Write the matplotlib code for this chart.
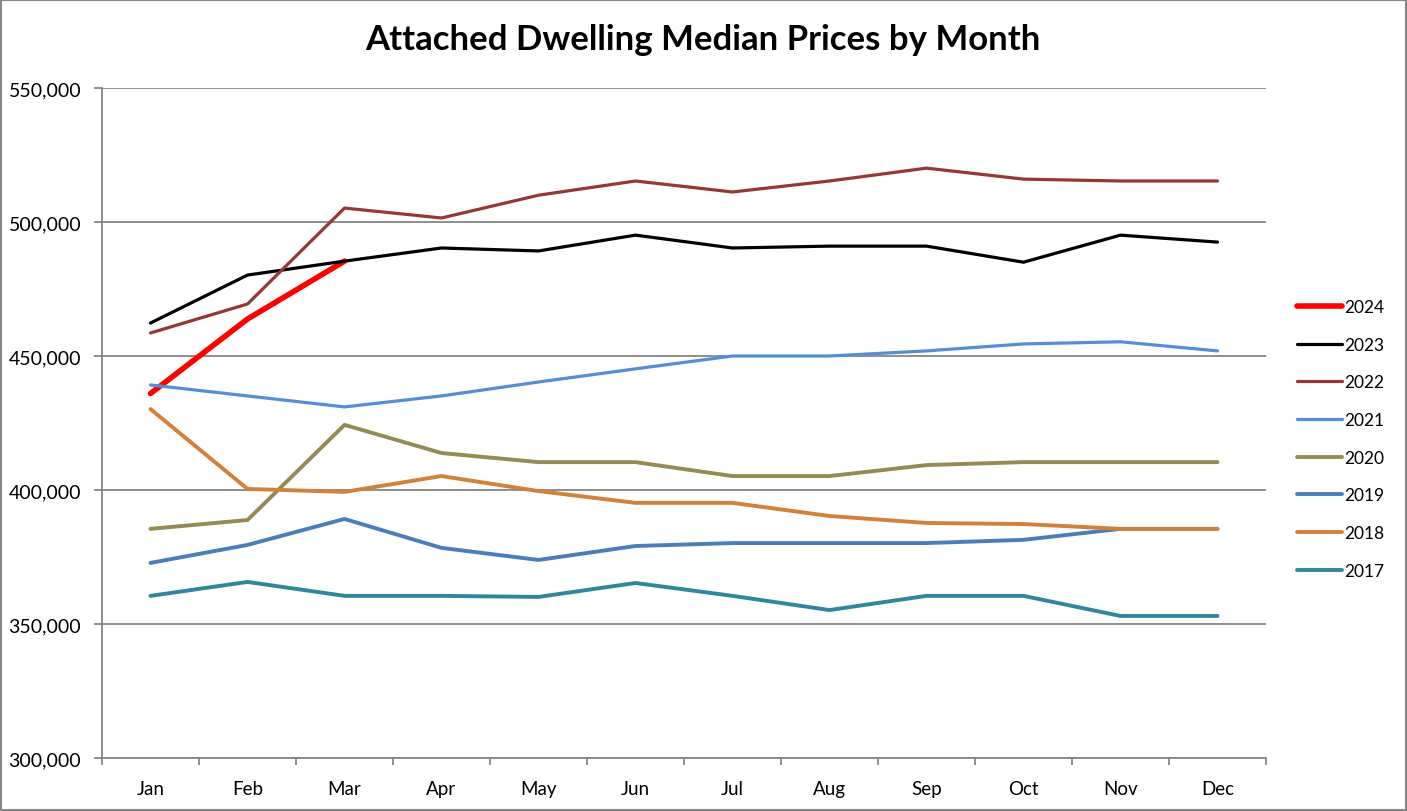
import matplotlib
matplotlib.use("Agg")
import matplotlib.pyplot as plt
from matplotlib.patches import Rectangle
from matplotlib.ticker import FuncFormatter, FixedLocator

months = ["Jan", "Feb", "Mar", "Apr", "May", "Jun", "Jul", "Aug", "Sep", "Oct", "Nov", "Dec"]

y2024 = [436000, 463800, 485400]
y2023 = [462300, 480200, 485400, 490300, 489200, 495100, 490300, 491000, 491000, 485000, 495100, 492500]
y2022 = [458600, 469400, 505200, 501500, 510000, 515300, 511200, 515300, 520100, 516000, 515300, 515300]
y2021 = [439200, 435100, 431000, 435100, 440300, 445200, 450000, 450000, 451900, 454500, 455300, 451900]
y2020 = [385500, 388800, 424300, 413800, 410400, 410400, 405200, 405200, 409300, 410400, 410400, 410400]
y2019 = [372800, 379500, 389200, 378400, 373900, 379100, 380200, 380200, 380200, 381400, 385500, 385500]
y2018 = [430200, 400400, 399300, 405200, 399600, 395200, 395200, 390300, 387700, 387300, 385500, 385500]
y2017 = [360500, 365700, 360500, 360500, 360100, 365300, 360500, 355200, 360500, 360500, 353000, 353000]

series = [
    ("2024", y2024, "#FF0000", 4.0),
    ("2023", y2023, "#000000", 2.3),
    ("2022", y2022, "#953735", 2.3),
    ("2021", y2021, "#558ED5", 2.3),
    ("2020", y2020, "#948A54", 2.8),
    ("2019", y2019, "#4A7EBB", 2.8),
    ("2018", y2018, "#D2803A", 2.8),
    ("2017", y2017, "#31859C", 2.8),
]

plt.rcParams['font.family'] = ['Lato', 'DejaVu Sans']

fig = plt.figure(figsize=(14.07, 8.12), dpi=100)
W, H = 1407, 812
ax = fig.add_axes([102 / W, 1 - 759 / H, (1266 - 102) / W, (759 - 89) / H])

x = list(range(len(months)))
for name, vals, color, lw in series:
    ax.plot(x[:len(vals)], vals, color=color, lw=lw, label=name,
            solid_capstyle='round', solid_joinstyle='round')

ax.set_xlim(-0.5, 11.5)
ax.set_ylim(300000, 550000)
ax.set_yticks([300000, 350000, 400000, 450000, 500000, 550000])
ax.yaxis.set_major_formatter(FuncFormatter(lambda v, p: f"{int(v):,}"))
ax.set_xticks(x)
ax.set_xticklabels(months)
ax.xaxis.set_minor_locator(FixedLocator([i - 0.5 for i in range(13)]))
ax.tick_params(axis='x', which='major', length=0, pad=16, labelsize=13.5, colors='black')
ax.tick_params(axis='x', which='minor', length=5, width=1.3, color='#868686', direction='out')
ax.tick_params(axis='y', length=6, width=1.3, color='#868686', direction='out', pad=9,
               labelsize=14)
ax.grid(axis='y', color='#868686', lw=1.3)
ax.set_axisbelow(True)
for s in ['top', 'right']:
    ax.spines[s].set_visible(False)
for s in ['left', 'bottom']:
    ax.spines[s].set_color('#868686')
    ax.spines[s].set_linewidth(1.3)

fig.text(703 / W, 1 - 40 / H, "Attached Dwelling Median Prices by Month",
         ha='center', va='center', fontsize=25, fontweight='bold')

leg = fig.legend(loc='upper left', bbox_to_anchor=(1290 / W, 1 - 293 / H), frameon=False,
                 fontsize=12.5, labelspacing=1.25, handlelength=2.6, handletextpad=0.15,
                 borderaxespad=0)

fig.patches.append(Rectangle((0.001, 0.001), 0.998, 0.998, transform=fig.transFigure,
                             fill=False, edgecolor='#868686', lw=1.5))

fig.savefig("out.png", dpi=100)
